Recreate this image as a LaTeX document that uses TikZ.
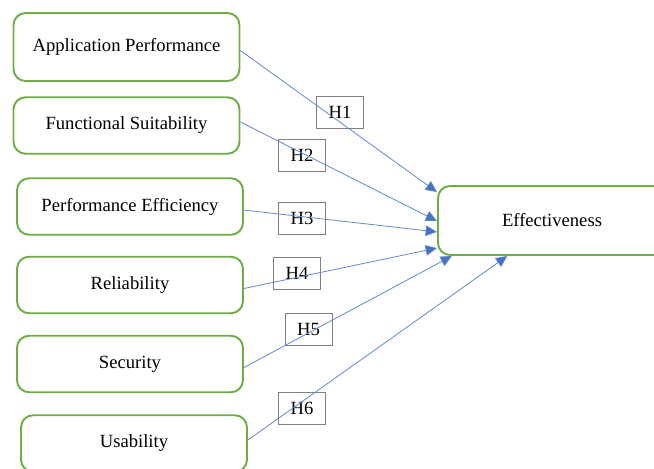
\documentclass[tikz,border=0pt]{standalone}
\usepackage{fontspec}
\setmainfont{Liberation Serif}
\usetikzlibrary{arrows.meta,positioning}

\definecolor{boxgreen}{RGB}{112,173,71}
\definecolor{arrowblue}{RGB}{68,114,196}

\tikzset{
  factor/.style={draw=boxgreen, line width=1.1pt, rounded corners=0.24cm,
    minimum width=4.52cm, minimum height=1.13cm, align=center,
    font=\fontsize{10.6}{12}\selectfont},
  hyp/.style={draw=gray, line width=0.5pt, minimum width=0.94cm,
    minimum height=0.64cm, inner sep=0pt, font=\fontsize{10.6}{12}\selectfont},
  link/.style={draw=arrowblue!85, line width=0.45pt,
    -{Triangle[length=6.5pt,width=6pt,fill=arrowblue]}}
}

\begin{document}
\begin{tikzpicture}[x=0.02cm,y=-0.02cm]
\useasboundingbox (0,0) rectangle (654,468);
% independent variables
\node[factor, minimum height=1.36cm] (ap) at (126.5,47) {Application Performance};
\node[factor] (fs) at (126.5,125.5) {Functional Suitability};
\node[factor] (pe) at (130,206.5) {Performance Efficiency};
\node[factor] (rel) at (130,285) {Reliability};
\node[factor] (sec) at (130,364) {Security};
\node[factor] (usa) at (134,443.5) {Usability};
% dependent variable
\node[factor, minimum width=4.56cm, minimum height=1.38cm] (eff) at (552,220.5) {Effectiveness};
% hypothesis labels
\node[hyp] (h1) at (340,112) {H1};
\node[hyp] (h2) at (302,155) {H2};
\node[hyp] (h3) at (302,218) {H3};
\node[hyp] (h4) at (297,273) {H4};
\node[hyp] (h5) at (308.5,329) {H5};
\node[hyp] (h6) at (302,408) {H6};
% paths
\draw[link] ([yshift=-2pt]ap.east) -- ([yshift=-4pt]eff.north west);
\draw[link] ([yshift=2pt]fs.east) -- ([yshift=-20.5pt]eff.north west);
\draw[link] ([yshift=-2pt]pe.east) -- ([yshift=-26.7pt]eff.north west);
\draw[link] ([yshift=-2pt]rel.east) -- ([yshift=4.5pt]eff.south west);
\draw[link] ([yshift=-2pt]sec.east) -- ([xshift=8.5pt]eff.south west);
\draw[link] ([yshift=2pt]usa.east) -- ([xshift=40pt]eff.south west);
\end{tikzpicture}
\end{document}
